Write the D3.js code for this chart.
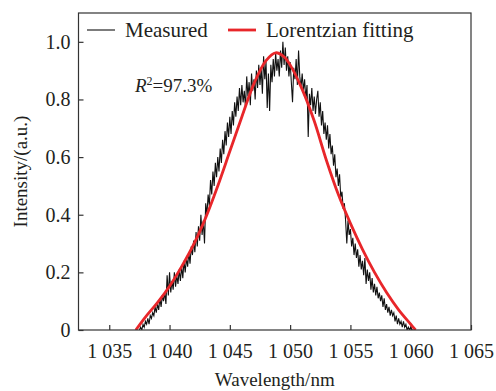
<!DOCTYPE html>
<meta charset="utf-8">
<style>
  html, body {
      margin: 0;
      padding: 0;
      background: #fff;
  }
</style>
<body>
</body>
<script src="https://cdn.jsdelivr.net/npm/d3@7"></script>
<script>

  var width = 496;
  var height = 391;
  var serif = "'Liberation Serif', 'Times New Roman', serif";
  var ink = "#231f20";

  /* measured spectrum, one value every 0.1 nm from 1037.5 nm */
  var wlStart = 1037.5;
  var wlStep = 0.1;
  var measured = [
      0.00, 0.01, 0.00, 0.02, 0.01,
      0.03, 0.02, 0.04, 0.02, 0.05,
      0.04, 0.06, 0.05, 0.08, 0.06,
      0.09, 0.07, 0.11, 0.08, 0.12,
      0.10, 0.13, 0.09, 0.19, 0.12,
      0.20, 0.13, 0.17, 0.14, 0.20,
      0.15, 0.19, 0.16, 0.21, 0.17,
      0.22, 0.18, 0.24, 0.20, 0.25,
      0.22, 0.27, 0.23, 0.29, 0.26,
      0.31, 0.27, 0.34, 0.29, 0.36,
      0.31, 0.40, 0.33, 0.38, 0.30,
      0.44, 0.40, 0.47, 0.43, 0.52,
      0.47, 0.55, 0.50, 0.58, 0.53,
      0.60, 0.55, 0.63, 0.58, 0.66,
      0.61, 0.69, 0.64, 0.72, 0.67,
      0.74, 0.68, 0.76, 0.71, 0.79,
      0.74, 0.81, 0.76, 0.84, 0.78,
      0.85, 0.79, 0.83, 0.77, 0.88,
      0.81, 0.86, 0.78, 0.89, 0.83,
      0.87, 0.80, 0.90, 0.84, 0.92,
      0.85, 0.91, 0.82, 0.95, 0.87,
      0.93, 0.77, 0.89, 0.76, 0.92,
      0.86, 0.94, 0.88, 0.96, 0.90,
      0.94, 0.88, 0.97, 0.91, 1.00,
      0.92, 0.98, 0.90, 0.95, 0.88,
      0.93, 0.86, 0.79, 0.91, 0.87,
      0.94, 0.85, 0.97, 0.88, 0.84,
      0.89, 0.83, 0.87, 0.80, 0.85,
      0.67, 0.82, 0.78, 0.84, 0.76,
      0.81, 0.75, 0.80, 0.83, 0.74,
      0.79, 0.71, 0.76, 0.68, 0.72,
      0.66, 0.71, 0.63, 0.68, 0.61,
      0.64, 0.57, 0.61, 0.53, 0.56,
      0.50, 0.54, 0.46, 0.48, 0.42,
      0.44, 0.38, 0.30, 0.38, 0.33,
      0.35, 0.29, 0.32, 0.26, 0.30,
      0.25, 0.28, 0.22, 0.26, 0.21,
      0.24, 0.19, 0.25, 0.16, 0.21,
      0.17, 0.20, 0.14, 0.18, 0.13,
      0.16, 0.12, 0.15, 0.11, 0.13,
      0.10, 0.12, 0.08, 0.11, 0.07,
      0.09, 0.06, 0.08, 0.05, 0.07,
      0.05, 0.06, 0.03, 0.05, 0.02,
      0.04, 0.02, 0.03, 0.01, 0.03,
      0.01, 0.02, 0.00, 0.01, 0.00,
      0.01, 0.00, 0.00
  ];

  /* fitted curve */
  var fitWl = [1037.2, 1038, 1039, 1040, 1041, 1042, 1043, 1044, 1045, 1046, 1047, 1048, 1048.8,
               1049.5, 1050, 1051, 1052, 1053, 1054, 1055, 1056, 1057, 1058, 1059, 1060, 1060.4];
  var fitVal = [0, 0.045, 0.095, 0.152, 0.22, 0.297, 0.39, 0.50, 0.62, 0.74, 0.855, 0.935, 0.962,
                0.948, 0.92, 0.835, 0.725, 0.59, 0.47, 0.37, 0.28, 0.20, 0.13, 0.07, 0.02, 0];

  var xTicks = [1035, 1040, 1045, 1050, 1055, 1060, 1065];
  var yTicks = [0, 0.2, 0.4, 0.6, 0.8, 1.0];

  var margin = {top: 13, right: 25, bottom: 61, left: 78.5};
  var w = width - margin.left - margin.right;
  var h = height - margin.top - margin.bottom;

  var svg = d3.select("body").append("svg")
      .attr("width", width)
      .attr("height", height);

  var g = svg.append("g")
      .attr("transform", "translate(" + margin.left + "," + margin.top + ")");

  var x = d3.scaleLinear().domain([1032.45, 1065]).range([0, w]);
  var y = d3.scaleLinear().domain([0, 1.1]).range([h, 0]);

  /* axes, ticks pointing inward */
  var fmtX = function(d) { return "1\u00a0" + String(d).slice(1); };
  var fmtY = function(d) { return d == 0 ? "0" : d3.format(".1f")(d); };

  var xAxis = g.append("g")
      .attr("transform", "translate(0," + h + ")")
      .call(d3.axisBottom(x).tickValues(xTicks).tickFormat(fmtX).tickSize(-5).tickPadding(14));
  var yAxis = g.append("g")
      .call(d3.axisLeft(y).tickValues(yTicks).tickFormat(fmtY).tickSize(-5).tickPadding(8));

  [xAxis, yAxis].forEach(function(a) {
      a.attr("font-family", serif);
      a.select(".domain").remove();
      a.selectAll(".tick line").attr("stroke", "#333").attr("stroke-width", 1.2);
      a.selectAll(".tick text")
          .attr("fill", ink)
          .style("font-family", serif)
          .style("font-size", "20px");
  });

  g.append("clipPath").attr("id", "clip")
      .append("rect").attr("width", w).attr("height", h);

  var plot = g.append("g").attr("clip-path", "url(#clip)");

  var line = d3.line()
      .x(function(d, i) { return x(wlStart + i * wlStep); })
      .y(function(d) { return y(d); });

  plot.append("path")
      .datum(measured)
      .attr("fill", "none")
      .attr("stroke", "#111")
      .attr("stroke-width", 1.1)
      .attr("d", line);

  var fitLine = d3.line()
      .curve(d3.curveCatmullRom.alpha(0.5))
      .x(function(d, i) { return x(fitWl[i]); })
      .y(function(d) { return y(d); });

  plot.append("path")
      .datum(fitVal)
      .attr("fill", "none")
      .attr("stroke", "#e8262a")
      .attr("stroke-width", 2.8)
      .attr("d", fitLine);

  /* frame */
  g.append("rect")
      .attr("width", w)
      .attr("height", h)
      .attr("fill", "none")
      .attr("stroke", "#333")
      .attr("stroke-width", 1.2);

  /* legend */
  var legend = [
      {label: "Measured", color: "#111", sw: 1.1, x0: 8.5},
      {label: "Lorentzian fitting", color: "#e8262a", sw: 2.8, x0: 149.5}
  ];
  var lg = g.selectAll(".legend")
      .data(legend)
      .enter().append("g")
      .attr("class", "legend")
      .attr("transform", function(d) { return "translate(" + d.x0 + ",17)"; });
  lg.append("line")
      .attr("x1", 0).attr("x2", 28)
      .attr("stroke", function(d) { return d.color; })
      .attr("stroke-width", function(d) { return d.sw; });
  lg.append("text")
      .attr("x", 38)
      .attr("dy", "0.35em")
      .attr("fill", ink)
      .style("font-family", serif)
      .style("font-size", "21px")
      .text(function(d) { return d.label; });

  /* R squared */
  var r2 = g.append("text")
      .attr("x", 56.5)
      .attr("y", 79)
      .attr("fill", ink)
      .style("font-family", serif)
      .style("font-size", "19px");
  r2.append("tspan").style("font-style", "italic").text("R");
  r2.append("tspan").attr("dy", -7).style("font-size", "12px").text("2");
  r2.append("tspan").attr("dy", 7).text("=97.3%");

  /* axis titles */
  g.append("text")
      .attr("x", w / 2)
      .attr("y", h + 56)
      .attr("text-anchor", "middle")
      .attr("fill", ink)
      .style("font-family", serif)
      .style("font-size", "19px")
      .text("Wavelength/nm");

  g.append("text")
      .attr("transform", "translate(" + (-52) + "," + (h / 2) + ") rotate(-90)")
      .attr("text-anchor", "middle")
      .attr("fill", ink)
      .style("font-family", serif)
      .style("font-size", "19px")
      .text("Intensity/(a.u.)");

</script>
